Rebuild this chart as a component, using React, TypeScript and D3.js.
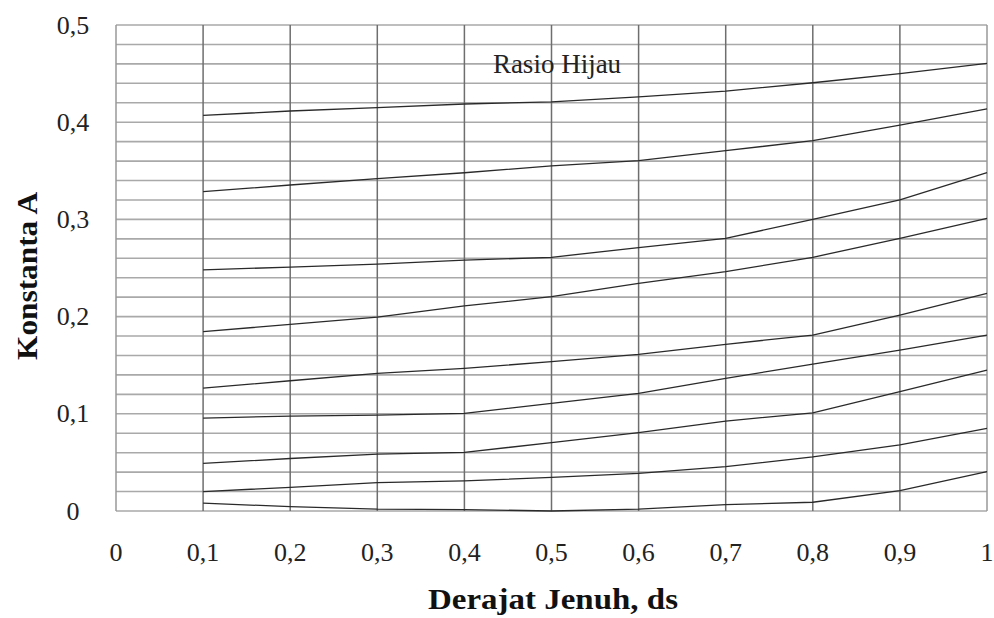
import React from "react";
import * as d3 from "d3";

const dsValues = [0.1, 0.2, 0.3, 0.4, 0.5, 0.6, 0.7, 0.8, 0.9, 1.0];
const curve1 = [0.407, 0.4115, 0.415, 0.4187, 0.421, 0.426, 0.432, 0.4406, 0.45, 0.4606];
const curve2 = [0.3285, 0.3354, 0.342, 0.348, 0.355, 0.3604, 0.3707, 0.381, 0.397, 0.4136];
const curve3 = [0.248, 0.251, 0.254, 0.258, 0.261, 0.271, 0.2805, 0.3, 0.32, 0.348];
const curve4 = [0.1845, 0.192, 0.1995, 0.211, 0.2205, 0.2342, 0.2462, 0.261, 0.2805, 0.301];
const curve5 = [0.1265, 0.134, 0.1416, 0.1468, 0.1536, 0.1612, 0.1715, 0.181, 0.2016, 0.224];
const curve6 = [0.0955, 0.0977, 0.0987, 0.1005, 0.1108, 0.121, 0.1365, 0.151, 0.1656, 0.181];
const curve7 = [0.049, 0.054, 0.0586, 0.0604, 0.0703, 0.0806, 0.0925, 0.101, 0.1228, 0.145];
const curve8 = [0.0199, 0.0244, 0.0291, 0.0309, 0.0346, 0.0387, 0.0456, 0.0557, 0.068, 0.085];
const curve9 = [0.008, 0.0045, 0.002, 0.0015, 0.0, 0.002, 0.0065, 0.009, 0.021, 0.0405];
const curves = [curve1, curve2, curve3, curve4, curve5, curve6, curve7, curve8, curve9];

const xTicks = [0, 0.1, 0.2, 0.3, 0.4, 0.5, 0.6, 0.7, 0.8, 0.9, 1];
const yTicks = [0, 0.1, 0.2, 0.3, 0.4, 0.5];
const yMinorStep = 0.02;

const xTitle = "Derajat Jenuh, ds";
const yTitle = "Konstanta A";
const annotation = "Rasio Hijau";

const fmt = (v: number) => String(v).replace(".", ",");

export default function App() {
  const W = 994;
  const H = 618;
  const x = d3.scaleLinear().domain([0, 1]).range([116, 987]);
  const y = d3.scaleLinear().domain([0, 0.5]).range([511, 25]);
  const minor = d3.range(0, 0.5 + 1e-9, yMinorStep);
  const line = d3
    .line<number>()
    .x((_, i) => x(dsValues[i]))
    .y((d) => y(d));
  const serif = "'Liberation Serif', 'Times New Roman', serif";

  return (
    <svg
      width={W}
      height={H}
      style={{ position: "absolute", left: 0, top: 0, background: "#fff" }}
      fontFamily={serif}
    >
      <rect x={0} y={0} width={W} height={H} fill="#fff" />
      {minor.map((v, i) => (
        <line
          key={"h" + i}
          x1={x(0)}
          x2={x(1)}
          y1={y(v)}
          y2={y(v)}
          stroke="#a9a9a9"
          strokeWidth={1.6}
        />
      ))}
      {xTicks.map((v, i) => (
        <line
          key={"v" + i}
          x1={x(v)}
          x2={x(v)}
          y1={y(0)}
          y2={y(0.5)}
          stroke={v === 0 || v === 1 ? "#999" : "#6e6e6e"}
          strokeWidth={1.5}
        />
      ))}
      {curves.map((c, i) => (
        <path key={"c" + i} d={line(c) || ""} fill="none" stroke="#2a2a2a" strokeWidth={1.3} />
      ))}
      {yTicks.map((v, i) => (
        <text
          key={"yt" + i}
          x={73}
          y={y(v)}
          textAnchor="middle"
          dominantBaseline="central"
          fontSize={26}
          fill="#222"
        >
          {fmt(v)}
        </text>
      ))}
      {xTicks.map((v, i) => (
        <text
          key={"xt" + i}
          x={x(v)}
          y={561}
          textAnchor="middle"
          fontSize={26}
          fill="#222"
        >
          {fmt(v)}
        </text>
      ))}
      <text x={557} y={73} textAnchor="middle" fontSize={27} fill="#222">
        {annotation}
      </text>
      <text
        x={553}
        y={609}
        textAnchor="middle"
        fontSize={30}
        fontWeight="bold"
        fill="#111"
        textLength={250}
        lengthAdjust="spacingAndGlyphs"
      >
        {xTitle}
      </text>
      <text
        transform="translate(37,276) rotate(-90)"
        textAnchor="middle"
        fontSize={30}
        fontWeight="bold"
        fill="#111"
        textLength={168}
        lengthAdjust="spacingAndGlyphs"
      >
        {yTitle}
      </text>
    </svg>
  );
}
